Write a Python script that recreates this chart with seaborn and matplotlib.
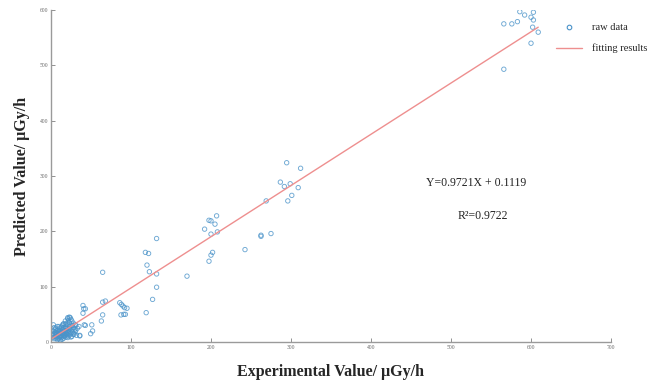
import matplotlib
matplotlib.use("Agg")
import matplotlib.pyplot as plt
import seaborn as sns
import pandas as pd
from matplotlib.lines import Line2D

# ---- data ----
exp_high = [64.6, 132, 118, 122, 120, 123, 132, 132, 127, 119, 170,
            192, 197.5, 200, 207, 205, 200, 208, 202, 200, 197.5,
            294.6, 312, 286.7, 291.7, 299, 309, 301, 296, 269, 262.5, 262.5, 275, 242.5,
            586, 592, 603, 600, 603, 583, 576, 566, 602, 609, 600, 566]
pred_high = [126, 187, 162, 160, 139, 127, 123, 99, 77, 53, 119,
             204, 220, 219, 228, 213, 195, 199, 162, 157, 146,
             324, 314, 289, 281, 286, 279, 265, 255, 255, 193, 191, 196, 167,
             597, 591, 596, 587, 582, 579, 575, 575, 569, 560, 540, 493]

exp_mid = [40, 41, 43, 40, 64.6, 68, 64.6, 63, 86, 88, 90, 95, 92, 87.5, 91, 93,
           41.6, 43, 51, 52, 49.6, 36, 30, 23, 21, 25]
pred_mid = [66, 60, 60, 52, 72, 74, 49, 38, 71, 68, 65, 61, 62, 49, 50, 50,
            31, 30, 31, 20, 15, 12, 31, 45, 44, 41]

exp_low = [3, 8, 14.6, 24, 21, 18, 28, 31, 29.6, 31, 29, 32, 36, 11,
           2, 3, 4, 5, 5, 6, 6, 7, 7, 8, 8, 9, 9, 10, 10, 11, 11, 12, 12, 13, 13, 14, 14,
           15, 15, 16, 16, 17, 17, 18, 18, 19, 19, 20, 20, 21, 21, 22, 22, 23, 23, 24, 24,
           25, 26, 26, 27, 27, 28, 3, 4, 6, 8, 10, 12, 14, 16, 18, 19, 20, 22, 2, 5, 7, 9,
           11, 13, 15, 17, 19, 21, 23, 25, 26, 28, 12, 14, 16, 18, 20, 10, 6, 4, 15, 25,
           30, 33, 35]
pred_low = [31, 28, 30, 44, 42, 32, 34, 30, 23, 21, 14, 12, 11, 4,
            8, 12, 15, 10, 18, 7, 13, 20, 9, 16, 11, 6, 22, 14, 18, 9, 25, 12, 16, 20, 8, 14, 23,
            11, 18, 26, 7, 15, 21, 12, 28, 18, 9, 24, 14, 30, 17, 11, 22, 19, 35, 13, 27,
            16, 22, 10, 18, 30, 14, 20, 6, 25, 4, 28, 3, 5, 33, 38, 25, 34, 39, 14, 22, 14, 12,
            19, 27, 22, 10, 14, 8, 24, 30, 38, 26, 10, 17, 13, 19, 20, 10, 17, 26, 32, 9,
            18, 25, 28]

fit_x = [1, 609]
fit_y = [6, 569]

equation_text = "Y=0.9721X + 0.1119"
r2_text = "R²=0.9722"

x_ticks = [0, 100, 200, 300, 400, 500, 600, 700]
y_ticks = [0, 100, 200, 300, 400, 500, 600]

df = pd.DataFrame({
    "exp": exp_high + exp_mid + exp_low,
    "pred": pred_high + pred_mid + pred_low,
})
fit_df = pd.DataFrame({"x": fit_x, "y": fit_y})

sns.set_theme(style="white")
plt.rcParams["font.family"] = ["Liberation Serif", "DejaVu Serif"]

fig = plt.figure(figsize=(6.62, 3.86), dpi=100)
ax = fig.add_axes([0.077, 0.114, 0.846, 0.86])

pt_color = "#4a93c9"
line_color = "#ee8f8f"

sns.scatterplot(data=df, x="exp", y="pred", ax=ax, marker="o", s=10,
                facecolor="none", edgecolor=pt_color, linewidth=0.65, alpha=0.8,
                legend=False)
sns.lineplot(data=fit_df, x="x", y="y", ax=ax, color=line_color, linewidth=1.0)

ax.set_xlim(0, 700)
ax.set_ylim(0, 600)
ax.set_xticks(x_ticks)
ax.set_yticks(y_ticks)
ax.tick_params(axis="both", direction="in", length=3, width=0.6, colors="#808080",
               labelsize=4, labelcolor="#666666", pad=2, bottom=True, left=True)
for s in ["top", "right"]:
    ax.spines[s].set_visible(False)
for s in ["left", "bottom"]:
    ax.spines[s].set_color("#9a9a9a")
    ax.spines[s].set_linewidth(1.0)

ax.set_xlabel("Experimental Value/ μGy/h", fontsize=11.5, fontweight="bold", labelpad=10)
ax.set_ylabel("Predicted Value/ μGy/h", fontsize=11.5, fontweight="bold", labelpad=7)

ax.text(532, 287, equation_text, fontsize=8.5, ha="center", va="center", color="#222222")
ax.text(540, 228, r2_text, fontsize=8.5, ha="center", va="center", color="#222222")

handles = [
    Line2D([], [], linestyle="none", marker="o", markersize=3.3, markerfacecolor="none",
           markeredgecolor=pt_color, markeredgewidth=0.8),
    Line2D([], [], color=line_color, linewidth=1.0),
]
fig.legend(handles, ["raw data", "fitting results"], loc="upper left",
           bbox_to_anchor=(0.826, 0.965), frameon=False, fontsize=7.5,
           handlelength=2.5, labelspacing=1.1, handletextpad=0.9)

fig.savefig("out.png", dpi=100)
